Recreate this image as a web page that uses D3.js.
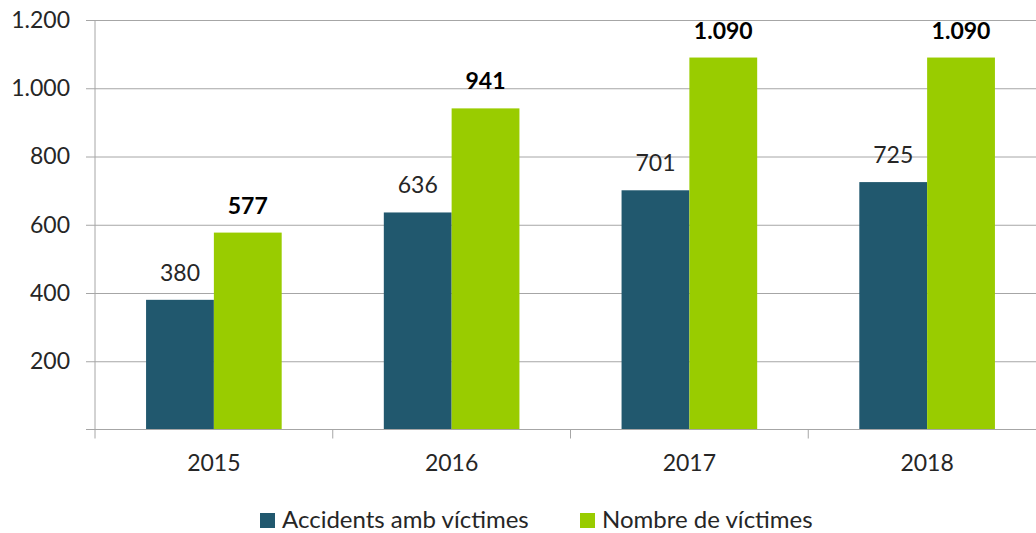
<!DOCTYPE html>
<html lang="ca">
<head>
<meta charset="utf-8">
<script src="https://d3js.org/d3.v7.min.js"></script>
<style>
  body { margin: 0; background: #fff; }
  svg text { font-family: Lato, "Open Sans", sans-serif; fill: #262626; }
  .domain { display: none; }
</style>
</head>
<body>
<div id="chart"></div>
<script>
// data
var years = ["2015", "2016", "2017", "2018"];
var seriesNames = ["Accidents amb víctimes", "Nombre de víctimes"];
var accidents = [380, 636, 701, 725];
var victimes = [577, 941, 1090, 1090];
var yTicks = [200, 400, 600, 800, 1000, 1200];
var colors = ["#21586e", "#99cc00"];

var width = 1036;
var height = 533;
var plotLeft = 95, plotRight = 1046, plotTop = 20, plotBottom = 429.5;
var fontSize = "23px";

var svg = d3.select("#chart")
    .append("svg")
    .attr("width", width)
    .attr("height", height);

var locale = d3.formatLocale({decimal: ",", thousands: ".", grouping: [3], currency: ["", " €"]});
var fmt = locale.format(",");

var x0 = d3.scaleBand().domain(years).range([plotLeft, plotRight]).paddingInner(0).paddingOuter(0);
var x1 = d3.scaleBand().domain(seriesNames).range([0, x0.bandwidth()]).paddingInner(0).paddingOuter(0.753);
var y = d3.scaleLinear().domain([0, 1200]).range([plotBottom, plotTop]);

// y axis + gridlines
var yAxis = d3.axisLeft(y).tickValues(yTicks).tickFormat(fmt).tickSize(9).tickPadding(16);
var gy = svg.append("g")
    .attr("transform", "translate(" + plotLeft + ",0)")
    .call(yAxis);
gy.selectAll(".tick line")
    .attr("x1", -9)
    .attr("x2", plotRight - plotLeft)
    .attr("stroke", "#a6a6a6");
gy.selectAll(".tick text")
    .style("font-size", fontSize);

// vertical axis line
svg.append("line")
    .attr("x1", plotLeft).attr("x2", plotLeft)
    .attr("y1", plotTop).attr("y2", plotBottom)
    .attr("stroke", "#a6a6a6");

// bars
var rows = years.map(function(d, i) {
    return {year: d, values: [accidents[i], victimes[i]]};
});

var groups = svg.selectAll(".grp")
    .data(rows)
    .enter()
    .append("g")
    .attr("class", "grp")
    .attr("transform", function(d) { return "translate(" + x0(d.year) + ",0)"; });

groups.selectAll("rect")
    .data(function(d) { return d.values.map(function(v, j) { return {name: seriesNames[j], v: v, j: j}; }); })
    .enter()
    .append("rect")
    .attr("x", function(d) { return x1(d.name); })
    .attr("width", x1.bandwidth())
    .attr("y", function(d) { return y(d.v); })
    .attr("height", function(d) { return plotBottom - y(d.v); })
    .attr("fill", function(d) { return colors[d.j]; });

groups.selectAll(".lbl")
    .data(function(d) { return d.values.map(function(v, j) { return {name: seriesNames[j], v: v, j: j}; }); })
    .enter()
    .append("text")
    .attr("class", "lbl")
    .attr("x", function(d) { return x1(d.name) + x1.bandwidth() / 2; })
    .attr("y", function(d) { return y(d.v) - 19; })
    .attr("text-anchor", "middle")
    .style("font-size", fontSize)
    .style("font-weight", function(d) { return d.j == 1 ? "bold" : "normal"; })
    .style("fill", function(d) { return d.j == 1 ? "#000" : "#262626"; })
    .text(function(d) { return fmt(d.v); });

// x axis
svg.append("line")
    .attr("x1", plotLeft - 9).attr("x2", plotRight)
    .attr("y1", plotBottom).attr("y2", plotBottom)
    .attr("stroke", "#a6a6a6");

svg.selectAll(".xt")
    .data(years.concat(["end"]))
    .enter()
    .append("line")
    .attr("class", "xt")
    .attr("x1", function(d) { return d == "end" ? plotRight : x0(d); })
    .attr("x2", function(d) { return d == "end" ? plotRight : x0(d); })
    .attr("y1", plotBottom)
    .attr("y2", plotBottom + 9)
    .attr("stroke", "#a6a6a6");

var gx = svg.append("g")
    .attr("transform", "translate(0," + plotBottom + ")")
    .call(d3.axisBottom(x0).tickSize(0).tickPadding(25));
gx.selectAll(".tick text").style("font-size", fontSize);

// legend
var legendX = [260, 580];
var legend = svg.selectAll(".leg")
    .data(seriesNames)
    .enter()
    .append("g")
    .attr("class", "leg")
    .attr("transform", function(d, i) { return "translate(" + legendX[i] + ",513)"; });
legend.append("rect")
    .attr("width", 15).attr("height", 15)
    .attr("fill", function(d, i) { return colors[i]; });
legend.append("text")
    .attr("x", 22)
    .attr("y", 15)
    .style("font-size", "24px")
    .text(function(d) { return d; });
</script>
</body>
</html>
